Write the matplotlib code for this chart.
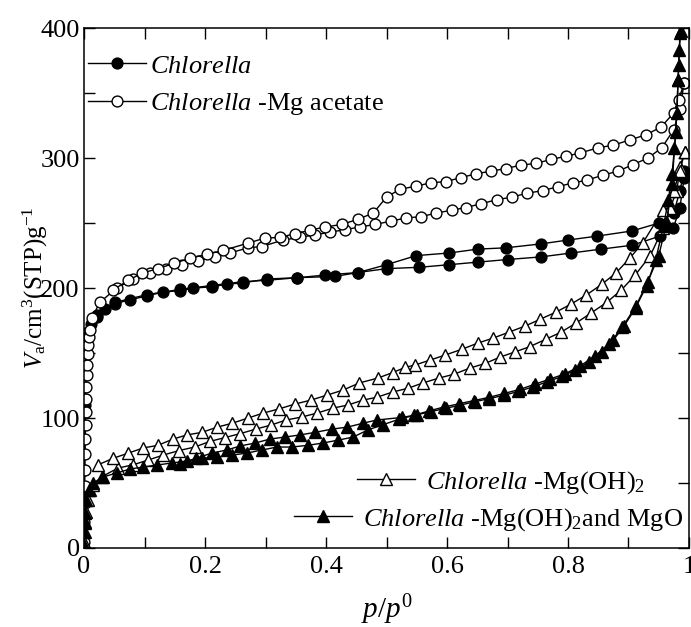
import matplotlib
matplotlib.use("Agg")
import matplotlib.pyplot as plt
from matplotlib.ticker import MultipleLocator, FixedLocator, FixedFormatter

plt.rcParams["font.family"] = "Liberation Serif"
plt.rcParams["mathtext.fontset"] = "custom"
plt.rcParams["mathtext.rm"] = "Liberation Serif"
plt.rcParams["mathtext.it"] = "Liberation Serif:italic"

# Chlorella (filled circles)
chl_ads_x = [0.000, 0.0005, 0.001, 0.002, 0.004, 0.007, 0.012, 0.021, 0.035, 0.051,
             0.076, 0.104, 0.131, 0.159, 0.180, 0.211, 0.236, 0.263, 0.302, 0.352,
             0.398, 0.453, 0.500, 0.554, 0.603, 0.651, 0.700, 0.755, 0.805, 0.855,
             0.906, 0.952, 0.974, 0.985, 0.992]
chl_ads_y = [0, 60, 110, 140, 158, 166, 172, 178, 184, 188,
             191, 194, 197, 198, 200, 201, 203, 204, 207, 208,
             210, 212, 215, 216, 218, 220, 222, 224, 227, 230,
             233, 240, 246, 262, 285]
chl_des_x = [0.992, 0.985, 0.975, 0.950, 0.906, 0.848, 0.800, 0.755, 0.697, 0.651,
             0.603, 0.549, 0.500, 0.453, 0.415, 0.352, 0.302, 0.263, 0.211, 0.159,
             0.104, 0.051, 0.021]
chl_des_y = [290, 275, 258, 250, 244, 240, 237, 234, 231, 230,
             227, 225, 218, 212, 209, 208, 206, 205, 202, 199,
             195, 189, 179]

# Chlorella-Mg acetate (open circles)
ace_ads_x = [0.0003, 0.0006, 0.0009, 0.0012, 0.0015, 0.0018, 0.0021, 0.0025, 0.003, 0.0035,
             0.004, 0.0046, 0.0053, 0.006, 0.007, 0.008, 0.010, 0.013, 0.026,
             0.054, 0.081, 0.109, 0.135, 0.162, 0.189, 0.217, 0.241, 0.271, 0.294,
             0.329, 0.357, 0.381, 0.407, 0.431, 0.456, 0.481, 0.507, 0.532, 0.557,
             0.582, 0.608, 0.631, 0.657, 0.682, 0.707, 0.732, 0.758, 0.783, 0.808,
             0.831, 0.858, 0.883, 0.907, 0.932, 0.955, 0.975, 0.985, 0.992]
ace_ads_y = [5, 20, 35, 48, 60, 72, 84, 95, 105, 115,
             124, 133, 141, 149, 156, 162, 168, 177, 189,
             200, 207, 212, 215, 218, 221, 224, 227, 231, 232,
             237, 239, 241, 243, 245, 247, 249, 251.5, 254, 255,
             257.7, 260, 262, 265, 268, 270, 273, 275, 278, 281,
             283, 287, 290, 295, 300, 308, 322, 338, 358]
ace_des_x = [0.992, 0.983, 0.975, 0.954, 0.929, 0.902, 0.875, 0.850, 0.820, 0.797,
             0.772, 0.747, 0.722, 0.697, 0.673, 0.648, 0.623, 0.598, 0.573, 0.549,
             0.522, 0.500, 0.478, 0.453, 0.426, 0.398, 0.374, 0.349, 0.324, 0.299,
             0.271, 0.230, 0.203, 0.175, 0.149, 0.122, 0.096, 0.073, 0.048]
ace_des_y = [358, 345, 335, 324, 318, 314, 310, 308, 304, 301.5,
             299, 296, 294.6, 292, 290, 288, 285, 282, 281, 278.5,
             276, 270, 257.7, 253, 249, 247, 244.6, 242, 239, 238.5,
             234.6, 229, 226, 223, 219, 215, 211.5, 206, 198.5]

# Chlorella-Mg(OH)2 (open triangles)
oh_ads_x = [0.0005, 0.001, 0.002, 0.004, 0.007, 0.010, 0.015, 0.030,
            0.056, 0.081, 0.106, 0.131, 0.157, 0.183, 0.208, 0.233, 0.258, 0.284,
            0.309, 0.334, 0.360, 0.385, 0.412, 0.436, 0.461, 0.484, 0.510, 0.536,
            0.560, 0.587, 0.612, 0.638, 0.663, 0.688, 0.712, 0.737, 0.764, 0.788,
            0.813, 0.838, 0.864, 0.888, 0.911, 0.936, 0.957, 0.969, 0.980, 0.985, 0.993]
oh_ads_y = [5, 12, 20, 28, 37, 44.6, 48.5, 55,
            61.5, 64, 67.7, 71.5, 75, 77.7, 82, 85, 88, 91.5,
            94.6, 98.5, 100.8, 103.8, 107.7, 110, 113.8, 116, 120, 123,
            127, 130.8, 133.8, 138.5, 142, 147, 150.8, 155, 160.8, 166,
            173, 180.8, 189, 198.5, 210, 225, 246, 262, 275, 293, 305]
oh_des_x = [0.993, 0.985, 0.975, 0.957, 0.924, 0.902, 0.879, 0.856, 0.830, 0.805,
            0.780, 0.754, 0.729, 0.702, 0.676, 0.651, 0.625, 0.597, 0.572, 0.547,
            0.531, 0.510, 0.486, 0.455, 0.428, 0.402, 0.375, 0.349, 0.322, 0.296,
            0.271, 0.245, 0.220, 0.195, 0.170, 0.147, 0.122, 0.098, 0.073, 0.048, 0.023]
oh_des_y = [305, 290, 275, 260, 235, 223, 211.5, 203, 194.6, 187.7,
            181.5, 176, 170.8, 166, 161.5, 157.7, 153, 148.5, 144.6, 140.8,
            139, 135, 130.8, 127, 121.5, 117.7, 113.8, 110.8, 107, 103.8,
            100, 96, 93, 89, 87, 83.8, 79, 77, 73, 69, 64]

# Chlorella-Mg(OH)2 and MgO (filled triangles)
mgo_ads_x = [0.0, 0.0005, 0.001, 0.002, 0.004, 0.008, 0.015, 0.031,
             0.054, 0.076, 0.098, 0.120, 0.145, 0.170, 0.195, 0.220, 0.245, 0.269,
             0.294, 0.319, 0.343, 0.370, 0.395, 0.420, 0.445, 0.469, 0.495, 0.520,
             0.545, 0.570, 0.595, 0.620, 0.645, 0.670, 0.695, 0.720, 0.745, 0.770,
             0.795, 0.820, 0.845, 0.868, 0.890, 0.912, 0.932, 0.950, 0.963, 0.972,
             0.978, 0.982, 0.985]
mgo_ads_y = [2, 12, 19, 27, 37, 45, 50, 54.6,
             57.7, 60.8, 62.3, 63.8, 65.4, 67, 69, 70, 71.5, 73,
             75.4, 77.7, 77.7, 79, 80.8, 83, 85.4, 90.8, 95, 99,
             102, 105.5, 108.5, 111, 113.5, 116, 119, 122, 126, 130,
             134, 140, 148, 157, 170, 186, 205, 225, 250, 280,
             320, 360, 396]
mgo_des_x = [0.986, 0.984, 0.983, 0.982, 0.980, 0.976, 0.972, 0.966, 0.958, 0.945,
             0.930, 0.912, 0.893, 0.875, 0.856, 0.834, 0.812, 0.790, 0.766, 0.742,
             0.718, 0.694, 0.670, 0.646, 0.622, 0.598, 0.574, 0.550, 0.526, 0.484,
             0.461, 0.435, 0.410, 0.382, 0.357, 0.332, 0.307, 0.283, 0.258, 0.236,
             0.211, 0.185, 0.159]
mgo_des_y = [398, 383, 372, 360, 335, 308, 288, 268, 248, 222,
             202, 185, 171, 160, 151, 143, 137, 132, 128, 124,
             120.5, 117.5, 115, 112.5, 110, 107.5, 105, 102.5, 100.5, 98.5,
             96, 93, 91.5, 89, 87, 85.4, 83.8, 80.8, 78.5, 75.4,
             73, 69, 65]

labels = [r"$\mathit{Chlorella}$",
          r"$\mathit{Chlorella}$ -Mg acetate",
          r"$\mathit{Chlorella}$ -Mg(OH)$_2$",
          r"$\mathit{Chlorella}$ -Mg(OH)$_2$and MgO"]
xtick_vals = [0, 0.2, 0.4, 0.6, 0.8, 1.0]
xtick_labels = ["0", "0.2", "0.4", "0.6", "0.8", "1"]
ytick_vals = [0, 100, 200, 300, 400]
ytick_labels = ["0", "100", "200", "300", "400"]

fig = plt.figure(figsize=(6.91, 6.27), dpi=100)
ax = fig.add_axes([0.1216, 0.126, 0.8755, 0.829])

series = [
    (chl_ads_x, chl_ads_y, chl_des_x, chl_des_y, "o", "black", 7.8),
    (ace_ads_x, ace_ads_y, ace_des_x, ace_des_y, "o", "white", 7.8),
    (oh_ads_x, oh_ads_y, oh_des_x, oh_des_y, "^", "white", 8.3),
    (mgo_ads_x, mgo_ads_y, mgo_des_x, mgo_des_y, "^", "black", 8.3),
]
handles = []
for (ax_, ay_, dx_, dy_, mk, fc, ms), lab in zip(series, labels):
    kw = dict(color="black", lw=1.0, marker=mk, markersize=ms,
              markerfacecolor=fc, markeredgecolor="black", markeredgewidth=1.0)
    h, = ax.plot(ax_, ay_, label=lab, **kw)
    ax.plot(dx_, dy_, **kw)
    handles.append(h)

ax.set_xlim(0, 1)
ax.set_ylim(0, 400)
ax.xaxis.set_major_locator(FixedLocator(xtick_vals))
ax.xaxis.set_major_formatter(FixedFormatter(xtick_labels))
ax.yaxis.set_major_locator(FixedLocator(ytick_vals))
ax.yaxis.set_major_formatter(FixedFormatter(ytick_labels))
ax.xaxis.set_minor_locator(MultipleLocator(0.1))
ax.yaxis.set_minor_locator(MultipleLocator(50))
ax.tick_params(which="both", direction="in", top=True, right=True,
               length=8, width=1.0, labelsize=19)
ax.tick_params(axis="x", pad=6)
ax.tick_params(axis="y", pad=3)
for sp in ax.spines.values():
    sp.set_linewidth(1.1)

ax.set_xlabel(r"$\mathit{p/p^0}$", fontsize=21)
ax.xaxis.set_label_coords(0.5, -0.085)
ax.set_ylabel(r"$V_{\mathrm{a}}$/cm$^3$(STP)g$^{-1}$", fontsize=18)
ax.yaxis.set_label_coords(-0.056, 0.5)

common = dict(frameon=False, fontsize=19, numpoints=1, handlelength=2.2,
              borderpad=0.0, borderaxespad=0.0)
leg1 = ax.legend(handles=handles[:2], loc="upper left", bbox_to_anchor=(0.007, 0.95),
                 handletextpad=0.15, labelspacing=0.5, **common)
ax.add_artist(leg1)
leg2 = ax.legend(handles=[handles[2]], loc="lower right", bbox_to_anchor=(0.927, 0.1),
                 handletextpad=0.4, **common)
ax.add_artist(leg2)
ax.legend(handles=[handles[3]], loc="lower right", bbox_to_anchor=(0.99, 0.029),
          handletextpad=0.4, **common)

fig.savefig("out.png", dpi=100)
